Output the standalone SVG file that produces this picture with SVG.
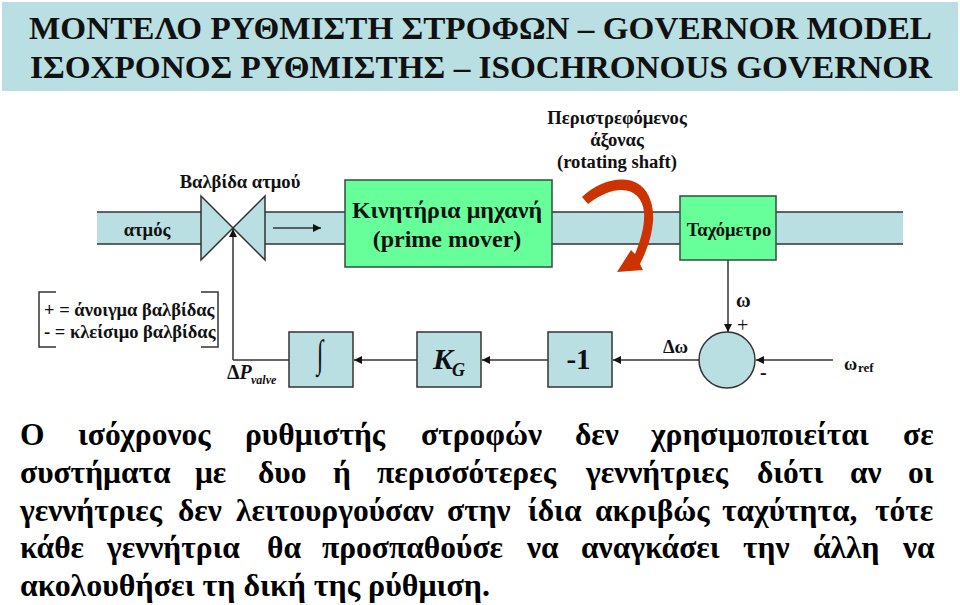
<svg xmlns="http://www.w3.org/2000/svg" width="960" height="605" viewBox="0 0 960 605">
<style>
text{font-family:"Liberation Serif","Times New Roman",serif;font-weight:bold;fill:#111}
.t{font-size:32px}
.l{font-size:18.6px;text-anchor:middle}
.m{font-size:24px;text-anchor:middle}
.s{font-size:18.5px}
.b{font-size:31.5px;fill:#000}
.box{fill:#b9dfe3;stroke:#333;stroke-width:1.5}
.g{fill:#66ff99;stroke:#2f4f3f;stroke-width:1.5}
.w{fill:none;stroke:#333;stroke-width:1.5}
.p{fill:#b9dfe3}
</style>
<defs>
<marker id="a" markerUnits="userSpaceOnUse" markerWidth="9" markerHeight="8" refX="8" refY="4" orient="auto"><path d="M0 0L8 4L0 8Z" fill="#111"/></marker>
</defs>
<rect width="960" height="605" fill="#fff"/>
<g id="header"><rect x="2" y="2" width="956" height="89" fill="#b9dfe3"/>
<text class="t" x="29" y="39" textLength="903" lengthAdjust="spacingAndGlyphs">ΜΟΝΤΕΛΟ ΡΥΘΜΙΣΤΗ ΣΤΡΟΦΩΝ – GOVERNOR MODEL</text>
<text class="t" x="30" y="78" textLength="902" lengthAdjust="spacingAndGlyphs">ΙΣΟΧΡΟΝΟΣ ΡΥΘΜΙΣΤΗΣ – ISOCHRONOUS GOVERNOR</text></g>
<g id="pipes"><rect class="p" x="97" y="212" width="105" height="32"/><rect class="p" x="265" y="212" width="80" height="32"/><rect class="p" x="552" y="212" width="128" height="32"/><rect class="p" x="776" y="212" width="127" height="32"/>
<path class="w" d="M97 212H202M97 244H202M265 212H345M265 244H345M552 212H680M552 244H680M776 212H903M776 244H903"/></g>
<g id="valve"><path class="box" d="M201 196L233 228L201 260Z"/><path class="box" d="M265 196L233 228L265 260Z"/><text class="l" x="240" y="188">Βαλβίδα ατμού</text><text class="l" x="147" y="236">ατμός</text></g>
<g id="motor"><rect class="g" x="345" y="180" width="207" height="87"/><text class="m" x="447" y="218">Κινητήρια μηχανή</text><text class="m" x="447" y="247">(prime mover)</text></g>
<g id="tach"><rect class="g" x="680" y="196" width="96" height="64"/><text class="l" x="729" y="236">Ταχόμετρο</text></g>
<g id="shaft"><text class="l" x="617" y="124">Περιστρεφόμενος</text><text class="l" x="617" y="146">άξονας</text><text class="l" x="617" y="168">(rotating shaft)</text>
<path d="M582 197C600 180 625 174 640 185C652 194 654 212 653 222C651 240 646 252 640 264L643 270L617 272L631 250L635 254C641 240 645 225 644 212C642 190 620 180 588 204Z" fill="#cc3300"/></g>
<g id="note"><text class="s" x="44" y="316">+ = άνοιγμα βαλβίδας</text><text class="s" x="44" y="338">- = κλείσιμο βαλβίδας</text><path class="w" d="M56 292H39V347H56M201 292H218V347H201"/></g>
<g id="integ"><rect class="box" x="289" y="332" width="64" height="55"/><text transform="translate(320 366.5) scale(.6 1)" text-anchor="middle" style="font-size:39px">∫</text></g>
<g id="kg"><rect class="box" x="417" y="332" width="64" height="55"/><text x="433" y="369" style="font-size:30px;font-style:italic">K</text><text x="452" y="376" style="font-size:18px;font-style:italic">G</text></g>
<g id="neg"><rect class="box" x="548" y="332" width="64" height="55"/><text x="578.5" y="369" text-anchor="middle" style="font-size:29px">-1</text></g>
<g id="sum"><circle class="box" cx="727" cy="360" r="28"/><text x="736" y="307" style="font-size:20px">ω</text><text x="737" y="332" style="font-size:20px;font-weight:normal">+</text><text x="760" y="379" style="font-size:20px">-</text><text x="844" y="370" style="font-size:18px">ω</text><text x="858" y="372" style="font-size:13px">ref</text><text x="663" y="353" style="font-size:18.5px">Δω</text></g>
<g id="dp"><text x="227" y="379" style="font-size:20px">Δ<tspan font-style="italic">P</tspan></text><text x="251" y="384" style="font-size:12px;font-style:italic">valve</text></g>
<g id="connectors"><path class="w" marker-end="url(#a)" d="M233 360V229"/><path class="w" d="M289 360H233"/><path class="w" marker-end="url(#a)" d="M417 360H354"/><path class="w" marker-end="url(#a)" d="M548 360H482"/><path class="w" marker-end="url(#a)" d="M699 360H613"/><path class="w" marker-end="url(#a)" d="M728 260V332"/><path class="w" marker-end="url(#a)" d="M833 360H756"/><path class="w" marker-end="url(#a)" d="M273 228H321"/></g>
<g id="body">
<text class="b" y="445"><tspan x="20">Ο</tspan><tspan x="78">ισόχρονος</tspan><tspan x="245">ρυθμιστής</tspan><tspan x="421">στροφών</tspan><tspan x="575">δεν</tspan><tspan x="651">χρησιμοποιείται</tspan><tspan x="903">σε</tspan></text>
<text class="b" y="483"><tspan x="20">συστήματα</tspan><tspan x="195">με</tspan><tspan x="258">δυο</tspan><tspan x="333">ή</tspan><tspan x="377">περισσότερες</tspan><tspan x="586">γεννήτριες</tspan><tspan x="757">διότι</tspan><tspan x="850">αν</tspan><tspan x="908">οι</tspan></text>
<text class="b" y="521"><tspan x="20">γεννήτριες</tspan><tspan x="178">δεν</tspan><tspan x="236">λειτουργούσαν</tspan><tspan x="447">στην</tspan><tspan x="528">ίδια</tspan><tspan x="595">ακριβώς</tspan><tspan x="722">ταχύτητα,</tspan><tspan x="875">τότε</tspan></text>
<text class="b" y="558"><tspan x="20">κάθε</tspan><tspan x="107">γεννήτρια</tspan><tspan x="267">θα</tspan><tspan x="322">προσπαθούσε</tspan><tspan x="527">να</tspan><tspan x="581">αναγκάσει</tspan><tspan x="743">την</tspan><tspan x="813">άλλη</tspan><tspan x="903">να</tspan></text>
<text class="b" x="20" y="596" textLength="470" lengthAdjust="spacingAndGlyphs">ακολουθήσει τη δική της ρύθμιση.</text>
</g>
</svg>
